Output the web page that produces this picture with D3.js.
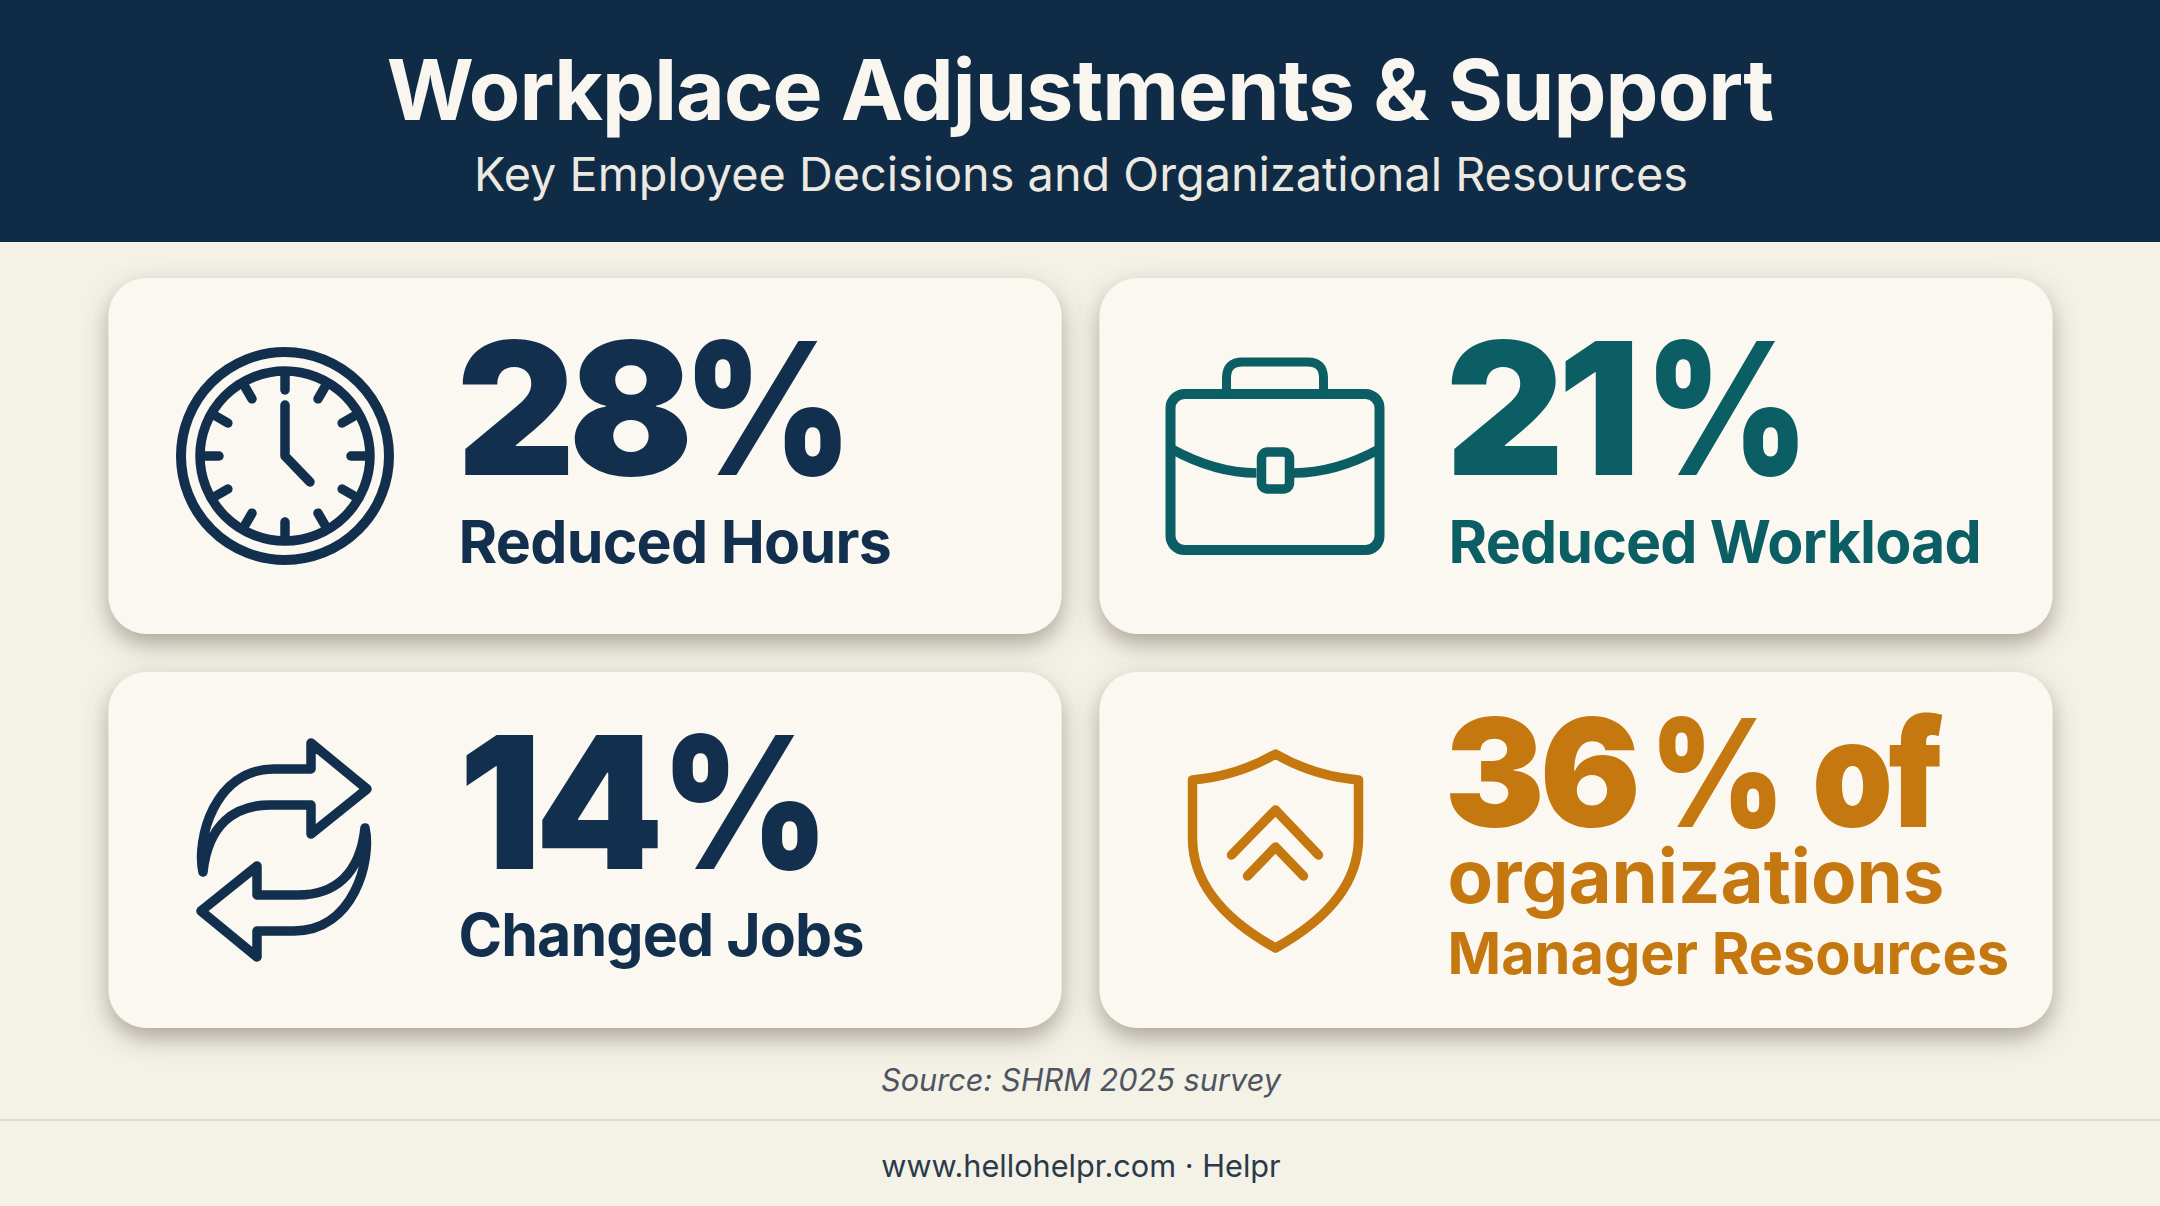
<!DOCTYPE html>
<html><head><meta charset="utf-8">
<script src="https://cdn.jsdelivr.net/npm/d3@7"></script>
<style>html,body{margin:0;padding:0;background:#f4f1e7;overflow:hidden}svg{display:block}text{font-family:Inter,"Noto Sans",sans-serif}</style>
</head><body><svg id="c" width="2160" height="1206"></svg>
<script>
const titleText = "Workplace Adjustments & Support";
const subtitleText = "Key Employee Decisions and Organizational Resources";
const sourceText = "Source: SHRM 2025 survey";
const footerText = "www.hellohelpr.com · Helpr";
const metricKeys = ["hours","workload","jobs","managers"];
const metricValues = [28,21,14,36];
const metricSuffixes = ["%","%","%","% of"];
const metricLabels = ["Reduced Hours","Reduced Workload","Changed Jobs","Manager Resources"];
const metricExtras = ["","","","organizations"];
const metricIcons = ["clock","case","swap","shield"];

const W=2160,H=1206;
const svg=d3.select("#c");
const defs=svg.append("defs");
const f=defs.append("filter").attr("id","sh").attr("x","-10%").attr("y","-15%").attr("width","120%").attr("height","135%");
f.append("feDropShadow").attr("dx",0).attr("dy",10).attr("stdDeviation",12).attr("flood-color","#5f5844").attr("flood-opacity",0.5);

const x=d3.scaleBand().domain([0,1]).range([108.5,2052.5]).paddingInner(38/991);
const y=d3.scaleBand().domain([0,1]).range([278,1028]).paddingInner(38/394);
const color=d3.scaleOrdinal().domain(metricKeys).range(["#12304d","#0b5e63","#12304d","#c5780f"]);

svg.append("rect").attr("width",W).attr("height",H).attr("fill","#f4f1e7");
svg.append("rect").attr("width",W).attr("height",242).attr("fill","#0f2b45");
svg.append("text").attr("x",1080).attr("y",120).attr("text-anchor","middle").attr("font-size",84).attr("font-weight",750).attr("letter-spacing",-0.85).attr("fill","#f8f6ef").text(titleText);
svg.append("text").attr("x",1081).attr("y",191).attr("text-anchor","middle").attr("font-size",46.8).attr("font-weight",400).attr("fill","#ece9e0").text(subtitleText);

const cards=svg.selectAll("g.card").data(metricKeys.map((k,i)=>({k,i,col:i%2,row:i>>1,v:metricValues[i],s:metricSuffixes[i],l:metricLabels[i],e:metricExtras[i],ic:metricIcons[i]})))
 .join("g").attr("class","card").attr("transform",d=>`translate(${x(d.col)},${y(d.row)})`);
cards.append("rect").attr("width",x.bandwidth()).attr("height",y.bandwidth()).attr("rx",38).attr("fill","#fbf8f1").attr("filter","url(#sh)");

const layout={hours:{nx:348,ny:197,ns:184,nl:-7,sd:-3,sk:.88,ws:0,lx:350,ly:285,ls:59,ll:-0.74},workload:{nx:346,ny:197,ns:184,nl:-7,sd:11,sk:.855,ws:0,lx:349,ly:285,ls:59,ll:-0.85},
 jobs:{nx:350,ny:197,ns:184,nl:-7,sd:4,sk:.875,ws:0,lx:350,ly:284,ls:59,ll:-0.9},managers:{nx:345,ny:155,ns:150,nl:-5,sd:14,sk:.86,ws:12,lx:348,ly:302,ls:57.6,ll:0,ex:348,ey:231,es:74.3}};
cards.each(function(d){
  const g=d3.select(this), L=layout[d.k];
  const n=g.append("text").attr("x",L.nx).attr("y",L.ny).attr("font-size",L.ns).attr("font-weight",900).attr("letter-spacing",L.nl).attr("fill",color(d.k)).text(d.v);
  const end=L.nx+n.node().getComputedTextLength()+L.sd;
  g.append("text").attr("transform",`translate(${end},${L.ny}) scale(${L.sk},1)`).attr("font-size",L.ns).attr("font-weight",900).attr("letter-spacing",L.nl).attr("word-spacing",L.ws)
    .attr("fill",color(d.k)).style("white-space","pre").text(d.s);
});
cards.append("text").attr("x",d=>layout[d.k].lx).attr("y",d=>layout[d.k].ly).attr("font-size",d=>layout[d.k].ls).attr("font-weight",700).attr("letter-spacing",d=>layout[d.k].ll)
 .attr("fill",d=>color(d.k)).text(d=>d.l);
cards.filter(d=>d.e).append("text").attr("x",d=>layout[d.k].ex).attr("y",d=>layout[d.k].ey).attr("font-size",d=>layout[d.k].es).attr("font-weight",700)
 .attr("fill",d=>color(d.k)).text(d=>d.e);

const ic=cards.append("g").attr("transform",d=>`translate(${d.col?176:176.5},178)`).attr("fill","none").attr("stroke",d=>color(d.k)).attr("stroke-linecap","round").attr("stroke-linejoin","round");
const clock=ic.filter(d=>d.ic==="clock");
clock.append("circle").attr("r",104).attr("stroke-width",10);
clock.append("circle").attr("r",85).attr("stroke-width",9.5);
clock.selectAll("line").data(d3.range(12)).join("line").attr("stroke-width",9.5)
  .attr("x1",a=>66*Math.sin(a*Math.PI/6)).attr("y1",a=>-66*Math.cos(a*Math.PI/6))
  .attr("x2",a=>84*Math.sin(a*Math.PI/6)).attr("y2",a=>-84*Math.cos(a*Math.PI/6));
clock.append("path").attr("stroke-width",9.5).attr("d","M0,-51 L0,0 L25,26");

const brief=ic.filter(d=>d.ic==="case");
brief.append("rect").attr("x",-105).attr("y",-62).attr("width",209).attr("height",156).attr("rx",14).attr("stroke-width",10);
brief.append("path").attr("stroke-width",9).attr("d","M-62,-64 L-62,-78 Q-62,-94 -46,-94 L19,-94 Q35,-94 35,-78 L35,-64").attr("transform","translate(13,0)");
brief.append("path").attr("stroke-width",9.5).attr("stroke-linecap","butt").attr("d","M-104,-7 Q-60,17 -19,17 M18,17 Q60,17 104,-7");
brief.append("rect").attr("x",-14).attr("y",-4).attr("width",28).attr("height",37).attr("rx",6).attr("stroke-width",9.5).attr("fill","#fbf8f1");

const arrow="M-81,22 C-88,-10 -70,-81 -10,-81 L27,-81 L27,-107 L83,-61 L27,-16 L27,-45 L-14,-45 C-50,-45 -76,-25 -81,22 Z";
const swap=ic.filter(d=>d.ic==="swap");
swap.append("path").attr("stroke-width",9.5).attr("d",arrow).attr("transform","translate(-1,0)");
swap.append("path").attr("stroke-width",9.5).attr("d",arrow).attr("transform","translate(-1,0) rotate(180)");

const sh=ic.filter(d=>d.ic==="shield");
sh.append("path").attr("stroke-width",9.5).attr("d","M0,-171 Q-38,-149 -83,-145 L-83,-87 C-83,-32 -36,3 0,23 C36,3 83,-32 83,-87 L83,-145 Q38,-149 0,-171 Z").attr("transform","translate(0,75)");
sh.append("path").attr("stroke-width",9.5).attr("d","M-44,5 L0,-40 L43,5");
sh.append("path").attr("stroke-width",9.5).attr("d","M-28,26 L0,-3 L28,26");

svg.append("text").attr("x",1081).attr("y",1091).attr("text-anchor","middle").attr("font-size",30.7).attr("font-style","italic").attr("fill","#4d5660").text(sourceText);
svg.append("line").attr("x1",0).attr("x2",W).attr("y1",1120).attr("y2",1120).attr("stroke","#dfdbce").attr("stroke-width",2);
svg.append("text").attr("x",1081).attr("y",1177).attr("text-anchor","middle").attr("font-size",30.7).attr("fill","#2b3a4a").text(footerText);
</script></body></html>
